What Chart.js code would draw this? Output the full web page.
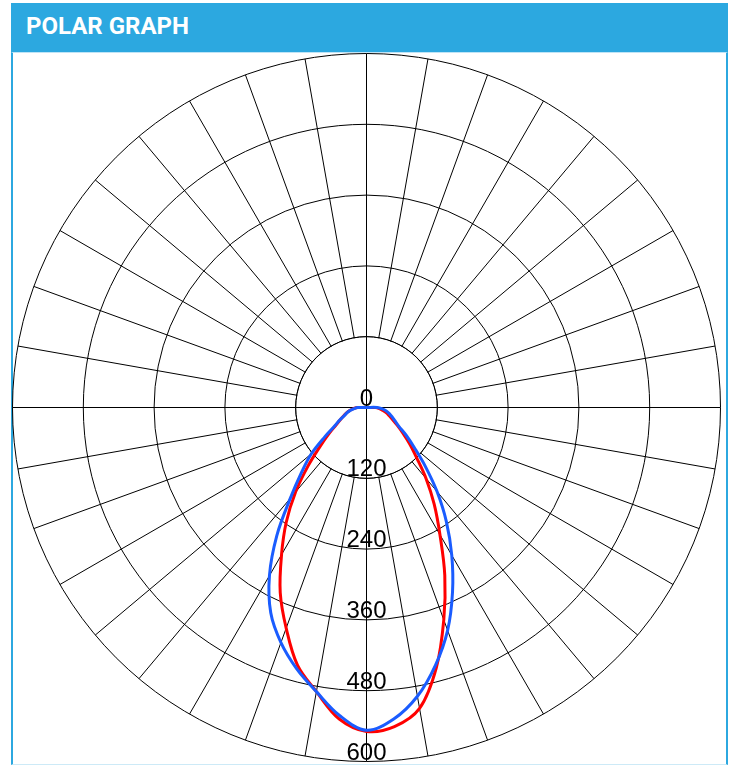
<!DOCTYPE html>
<html>
<head>
<meta charset="utf-8">
<script src="https://cdn.jsdelivr.net/npm/chart.js@4/dist/chart.umd.min.js"></script>
<style>
html, body { margin: 0; padding: 0; background: #fff; }
body { width: 735px; height: 765px; position: relative; overflow: hidden; }
#hdr { position: absolute; left: 11px; top: 3px; width: 717px; height: 49px; box-sizing: border-box;
  background: #2ca8e0; color: #fff; font: 700 24px Roboto, "Liberation Sans", sans-serif;
  line-height: 47px; padding-left: 15px; }
#box { position: absolute; left: 11px; top: 52px; width: 717px; height: 713px; box-sizing: border-box;
  border-left: 2px solid #2ca8e0; border-right: 2px solid #2ca8e0;
  border-top: 1px solid #bfe4f6; border-bottom: 1px solid #cdeaf7; }
#wrap { position: absolute; left: 6px; top: 47px; width: 720px; height: 720px; }
</style>
</head>
<body>
<div id="hdr">POLAR GRAPH</div>
<div id="box"></div>
<div id="wrap"><canvas id="c" width="720" height="720"></canvas></div>
<script>
// Angles (degrees, clockwise from nadir at the bottom) used as radar categories
const angleLabels = [0,5,10,15,20,25,30,35,40,45,50,55,60,65,70,75,80,85,
  90,95,100,105,110,115,120,125,130,135,140,145,150,155,160,165,170,175,
  180,185,190,195,200,205,210,215,220,225,230,235,240,245,250,255,260,265,
  270,275,280,285,290,295,300,305,310,315,320,325,330,335,340,345,350,355];
// Gamma angles from nadir for each half plane
const gammaDeg = [0,5,10,15,20,25,30,35,40,45,50,55,60,65,70,75,80,85,90];
// Intensity readings (left half = clockwise side, right half = counter-clockwise side)
const redLeft   = [549,530,489,452,398,346,288,237,187,140,103,78,60,49,41,35,29,22,15];
const redRight  = [549,543,518,457,383,314,249,200,157,120,95,75,60,49,41,35,28,22,15];
const blueLeft  = [547,524,489,458,424,384,329,265,201,156,122,86,62,50,40,34,28,21,15];
const blueRight = [547,530,497,452,402,345,289,236,186,141,106,82,63,53,46,40,34,27,18];
// Upper hemisphere intensity
const upperValue = 0;
// Radial tick labels
const tickValues = [0,120,240,360,480,600];
const innerRingValue = 120;

function planeToRing(sideA, sideB) {
  return angleLabels.map(a => {
    if (a <= 90) return sideA[gammaDeg.indexOf(a)];
    if (a >= 270) return sideB[gammaDeg.indexOf(360 - a)];
    return upperValue;
  });
}

const polarDecor = {
  id: 'polarDecor',
  beforeDraw(chart) { chart.ctx.save(); chart.ctx.translate(0.5, 0.5); },
  afterDraw(chart) { chart.ctx.restore(); },
  beforeDatasetsDraw(chart) {
    const s = chart.scales.r, ctx = chart.ctx;
    const rIn = s.getDistanceFromCenterForValue(innerRingValue);
    const n = angleLabels.length;
    ctx.save();
    ctx.beginPath();
    ctx.arc(s.xCenter, s.yCenter, rIn - 0.5, 0, Math.PI * 2);
    ctx.fillStyle = '#fff';
    ctx.fill();
    ctx.strokeStyle = '#000';
    ctx.lineWidth = 1;
    ctx.beginPath();
    ctx.arc(s.xCenter, s.yCenter, rIn, 0, Math.PI * 2);
    ctx.stroke();
    ctx.beginPath();
    [0, n / 4, n / 2, 3 * n / 4].forEach(idx => {
      const p = s.getPointPositionForValue(idx, innerRingValue);
      ctx.moveTo(s.xCenter, s.yCenter);
      ctx.lineTo(p.x, p.y);
    });
    ctx.stroke();
    ctx.font = '24px "Liberation Sans", Arial, sans-serif';
    ctx.fillStyle = '#000';
    ctx.textAlign = 'center';
    ctx.textBaseline = 'alphabetic';
    tickValues.forEach(v => {
      const d = s.getDistanceFromCenterForValue(v);
      ctx.fillText(String(v), s.xCenter, s.yCenter + d - 2);
    });
    ctx.restore();
  }
};

new Chart(document.getElementById('c'), {
  type: 'radar',
  data: {
    labels: angleLabels,
    datasets: [
      { label: 'Blue', data: planeToRing(blueLeft, blueRight), borderColor: '#1a5cff',
        borderWidth: 3, pointRadius: 0, fill: false, tension: 0.35, order: 0 },
      { label: 'Red', data: planeToRing(redLeft, redRight), borderColor: '#ff0000',
        borderWidth: 3, pointRadius: 0, fill: false, tension: 0.35, order: 1 }
    ]
  },
  options: {
    responsive: false,
    animation: false,
    layout: { padding: 6 },
    elements: { line: { borderJoinStyle: 'round' } },
    plugins: { legend: { display: false }, tooltip: { enabled: false } },
    scales: {
      r: {
        min: tickValues[0],
        max: tickValues[tickValues.length - 1],
        startAngle: 180,
        ticks: { display: false, stepSize: tickValues[1] - tickValues[0] },
        pointLabels: { display: false },
        grid: { color: '#000', lineWidth: 1, circular: true },
        angleLines: { display: true, color: '#000', lineWidth: c => (c.index % 2 === 0 ? 1 : 0) }
      }
    }
  },
  plugins: [polarDecor]
});
</script>
</body>
</html>
